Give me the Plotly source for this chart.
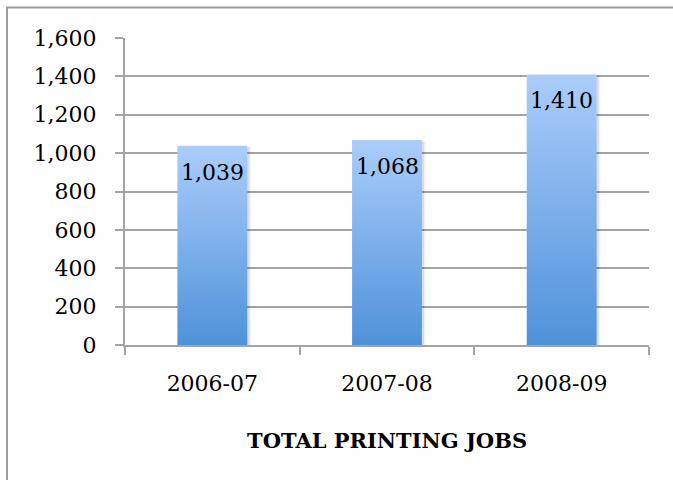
import plotly.graph_objects as go

# Data
periods = ["2006-07", "2007-08", "2008-09"]
jobs = [1039, 1068, 1410]
y_ticks = [0, 200, 400, 600, 800, 1000, 1200, 1400, 1600]
y_tick_labels = ["0", "200", "400", "600", "800", "1,000", "1,200", "1,400", "1,600"]
chart_title = "TOTAL PRINTING JOBS"

BAR_WIDTH = 0.4
FONT = "DejaVu Serif"
GRID = "#a3a3a3"

fig = go.Figure()

for i, value in enumerate(jobs):
    x0, x1 = i - BAR_WIDTH / 2, i + BAR_WIDTH / 2
    # soft drop shadow on the right-hand side
    for off, alpha in ((0.022, 0.05), (0.012, 0.09)):
        fig.add_trace(go.Scatter(
            x=[x0 + off, x1 + off, x1 + off, x0 + off, x0 + off],
            y=[0, 0, value - 6, value - 6, 0],
            fill="toself", mode="none",
            fillcolor=f"rgba(0,0,0,{alpha})",
            hoverinfo="skip", showlegend=False,
        ))
    # bar body with vertical gradient, dark at the base and light at the top
    fig.add_trace(go.Scatter(
        x=[x0, x1, x1, x0, x0],
        y=[0, 0, value, value, 0],
        fill="toself", mode="none",
        fillgradient=dict(
            type="vertical",
            colorscale=[[0, "#4f92da"], [1, "#abcdfb"]],
        ),
        name=periods[i], showlegend=False,
    ))
    fig.add_annotation(
        x=i, y=value, text=f"{value:,}", showarrow=False,
        yanchor="top", yshift=-12,
        font=dict(family=FONT, size=22, color="#000000"),
    )

fig.add_annotation(
    xref="paper", yref="paper", x=0.5, y=-0.31, yanchor="middle",
    text=f"<b>{chart_title}</b>", showarrow=False,
    font=dict(family=FONT, size=21, color="#000000"),
)

# outer chart-area border
fig.add_shape(
    type="rect", xref="paper", yref="paper",
    x0=(7 - 125) / 524, x1=1.1, y0=-0.5, y1=1 + (38 - 7.5) / 307,
    line=dict(color="#9c9c9c", width=2), layer="below",
)

fig.update_layout(
    width=673, height=480,
    margin=dict(l=125, r=24, t=38, b=135),
    paper_bgcolor="white", plot_bgcolor="white",
    showlegend=False,
    xaxis=dict(
        range=[-0.5, 2.5], tickvals=[0, 1, 2], ticktext=periods,
        ticks="", showgrid=False, zeroline=False,
        showline=True, linecolor=GRID, linewidth=2,
        minor=dict(tick0=-0.5, dtick=1, ticks="outside", ticklen=8,
                   tickcolor=GRID, tickwidth=2, showgrid=False),
        tickfont=dict(family=FONT, size=22, color="#000000"),
        ticklabelstandoff=18, fixedrange=True,
    ),
    yaxis=dict(
        range=[0, 1600], tickvals=y_ticks, ticktext=y_tick_labels,
        ticks="outside", ticklen=8, tickcolor=GRID, tickwidth=2,
        showgrid=True, gridcolor=GRID, gridwidth=2, zeroline=False,
        showline=True, linecolor=GRID, linewidth=2,
        tickfont=dict(family=FONT, size=22, color="#000000"),
        ticklabelstandoff=14, fixedrange=True,
    ),
)

fig.write_html("out.html")
